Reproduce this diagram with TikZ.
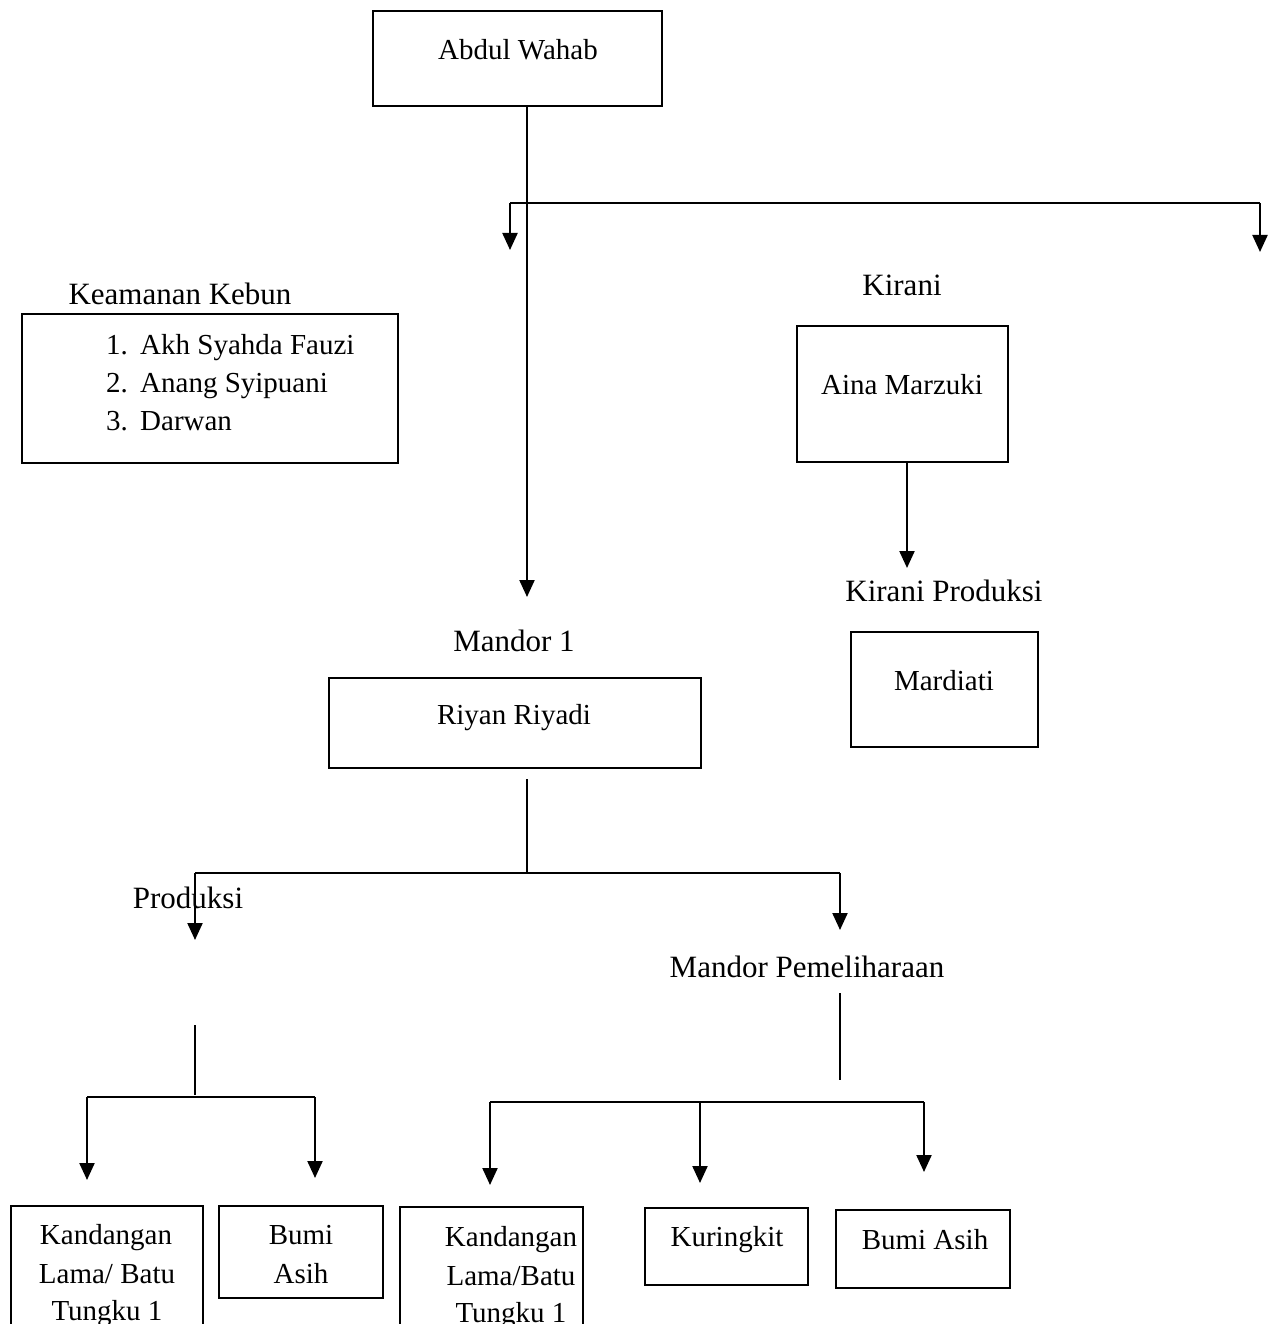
\documentclass[tikz,border=0pt]{standalone}
\usepackage{fontspec}
\setmainfont{Liberation Serif}
\usetikzlibrary{arrows.meta}
\begin{document}
\begin{tikzpicture}[x=1pt,y=-1pt,
 box/.style={draw, line width=2.4pt, inner sep=0pt},
 lbl/.style={font=\fontsize{31}{38}\selectfont, anchor=base, inner sep=0pt},
 txt/.style={font=\fontsize{29}{38}\selectfont, anchor=base, inner sep=0pt},
 txtw/.style={txt, anchor=base west},
 thinln/.style={line width=1.1pt},
 stem/.style={line width=2.2pt, -{Triangle[width=15pt,length=17pt]}},
]
\useasboundingbox (0,0) rectangle (1267,1324);
% boxes
\node[box, minimum width=289pt, minimum height=95pt] (aw) at (517.5,58.5) {};
\node[box, minimum width=376pt, minimum height=149pt] (kk) at (210,388.5) {};
\node[box, minimum width=211pt, minimum height=136pt] (am) at (902.5,394) {};
\node[box, minimum width=187pt, minimum height=115pt] (md) at (944.5,689.5) {};
\node[box, minimum width=372pt, minimum height=90pt] (rr) at (515,723) {};
\node[box, minimum width=192pt, minimum height=154pt] (k1) at (107,1283) {};
\node[box, minimum width=164pt, minimum height=92pt] (ba1) at (301,1252) {};
\node[box, minimum width=183pt, minimum height=153pt] (k2) at (491.5,1283.5) {};
\node[box, minimum width=163pt, minimum height=77pt] (ku) at (726.5,1246.5) {};
\node[box, minimum width=174pt, minimum height=78pt] (ba2) at (923,1249) {};
% texts in boxes
\node[txt] (tAW) at (518,60) {Abdul Wahab};
\node[txtw] (n1) at (106,354) {1.};
\node[txtw] (n2) at (106,392) {2.};
\node[txtw] (n3) at (106,430) {3.};
\node[txtw] (s1) at (140,354) {Akh Syahda Fauzi};
\node[txtw] (s2) at (140,392) {Anang Syipuani};
\node[txtw] (s3) at (140,430) {Darwan};
\node[txt] (tAM) at (902,394) {Aina Marzuki};
\node[txt] (tMD) at (944,690) {Mardiati};
\node[txt] (tRR) at (514,724) {Riyan Riyadi};
\node[txt] (tk1a) at (106,1244) {Kandangan};
\node[txt] (tk1b) at (107,1283) {Lama/ Batu};
\node[txt] (tk1c) at (107,1320) {Tungku 1};
\node[txt] (tb1a) at (301,1244) {Bumi};
\node[txt] (tb1b) at (301,1283) {Asih};
\node[txt] (tk2a) at (511,1246) {Kandangan};
\node[txt] (tk2b) at (511,1285) {Lama/Batu};
\node[txt] (tk2c) at (511,1322) {Tungku 1};
\node[txt] (tKU) at (727,1246) {Kuringkit};
\node[txt] (tBA) at (925,1249) {Bumi Asih};
% labels
\node[lbl] (lKK) at (180,304) {Keamanan Kebun};
\node[lbl] (lKI) at (902,295) {Kirani};
\node[lbl] (lKP) at (944,601) {Kirani Produksi};
\node[lbl] (lM1) at (514,651) {Mandor 1};
\node[lbl] (lPR) at (188,908) {Produksi};
\node[lbl] (lMP) at (807,977) {Mandor Pemeliharaan};
% coordinates
\coordinate (ja) at (527,203);
\coordinate (m1t) at (527,597);
\coordinate (jl) at (510,203);
\coordinate (jr) at (1260,203);
\coordinate (jlt) at (510,250);
\coordinate (jrt) at (1260,252);
\coordinate (akt) at (907,568);
\coordinate (rb) at (527,779);
\coordinate (rj) at (527,874);
\coordinate (pl) at (195,873);
\coordinate (pr) at (840,873);
\coordinate (plt) at (195,940);
\coordinate (prt) at (840,930);
\coordinate (pv1) at (195,1025);
\coordinate (pv2) at (195,1095);
\coordinate (ph1) at (87,1097);
\coordinate (ph2) at (315,1097);
\coordinate (ph1t) at (87,1180);
\coordinate (ph2t) at (315,1178);
\coordinate (mv1) at (840,993);
\coordinate (mv2) at (840,1080);
\coordinate (mh1) at (490,1102);
\coordinate (mh2) at (700,1102);
\coordinate (mh3) at (924,1102);
\coordinate (mh1t) at (490,1185);
\coordinate (mh2t) at (700,1183);
\coordinate (mh3t) at (924,1172);
% connectors
\draw[stem] (aw.south -| ja) -- (m1t);
\draw[thinln] (jl) -- (jr);
\draw[stem] (jl) -- (jlt);
\draw[stem] (jr) -- (jrt);
\draw[stem] (am.south -| akt) -- (akt);
\draw[thinln] (rb) -- (rj);
\draw[thinln] (pl) -- (pr);
\draw[stem] (pl) -- (plt);
\draw[stem] (pr) -- (prt);
\draw[thinln] (pv1) -- (pv2);
\draw[thinln] (ph1) -- (ph2);
\draw[stem] (ph1) -- (ph1t);
\draw[stem] (ph2) -- (ph2t);
\draw[thinln] (mv1) -- (mv2);
\draw[thinln] (mh1) -- (mh3);
\draw[stem] (mh1) -- (mh1t);
\draw[stem] (mh2) -- (mh2t);
\draw[stem] (mh3) -- (mh3t);
\end{tikzpicture}
\end{document}
